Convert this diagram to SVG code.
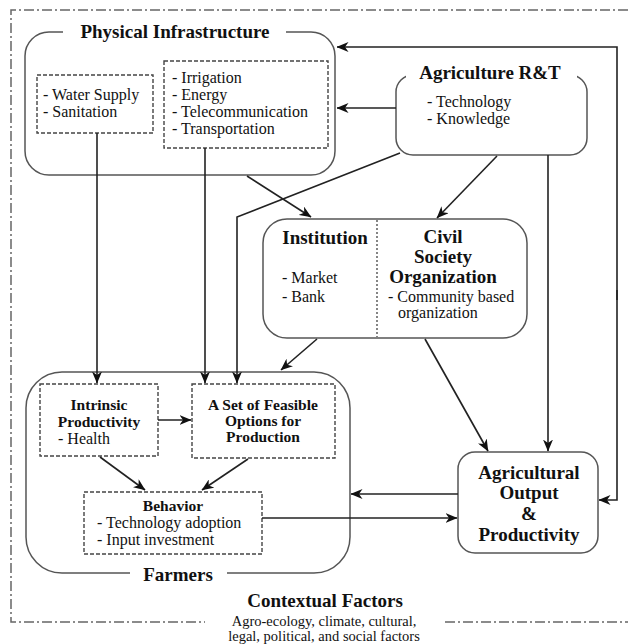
<svg xmlns="http://www.w3.org/2000/svg" width="628" height="644" viewBox="0 0 628 644">
<defs>
<marker id="arr" viewBox="0 0 12 10" refX="11.5" refY="5" markerWidth="12" markerHeight="10" markerUnits="userSpaceOnUse" orient="auto">
<path d="M0,0 L12,5 L0,10 L3.5,5 Z" fill="#111"/>
</marker>
</defs>
<style>
text{font-family:"Liberation Serif","Times New Roman",serif;fill:#111}
.t{font-size:19px;font-weight:bold}
.s{font-size:15.5px;font-weight:bold}
.b{font-size:16px}
.c{font-size:14.5px}
.box{fill:#fff;stroke:#555;stroke-width:1.5}
.dash{fill:none;stroke:#444;stroke-width:1.4;stroke-dasharray:4,2}
.border{fill:none;stroke:#666;stroke-width:1.5;stroke-dasharray:10,3,2,3}
.con path{fill:none;stroke:#222;stroke-width:1.6;marker-end:url(#arr)}
.gap{fill:#fff}
</style>
<rect width="628" height="644" fill="#fff"/>
<g id="contextual-factors">
<path class="border" d="M628,10 L11,10 L11,622 L205,622"/>
<path class="border" d="M445,622 L628,622"/>
<text class="t" x="325" y="607" text-anchor="middle">Contextual Factors</text>
<text class="c" x="324" y="626" text-anchor="middle">Agro-ecology, climate, cultural,</text>
<text class="c" x="324" y="641" text-anchor="middle">legal, political, and social factors</text>
</g>
<g id="physical-infrastructure">
<rect class="box" x="25" y="32" width="310" height="143" rx="24"/>
<rect class="gap" x="63" y="24" width="223" height="16"/>
<text class="t" x="175" y="38" text-anchor="middle">Physical Infrastructure</text>
<g id="water-supply">
<rect class="dash" x="37" y="75" width="116" height="58"/>
<text class="b" x="43" y="100">- Water Supply</text>
<text class="b" x="43" y="117">- Sanitation</text>
</g>
<g id="irrigation">
<rect class="dash" x="164" y="61" width="164" height="87"/>
<text class="b" x="172" y="83">- Irrigation</text>
<text class="b" x="172" y="100">- Energy</text>
<text class="b" x="172" y="117">- Telecommunication</text>
<text class="b" x="172" y="134">- Transportation</text>
</g>
</g>
<g id="agriculture-rt">
<rect class="box" x="396" y="75" width="191" height="80" rx="17"/>
<rect class="gap" x="406" y="66" width="171" height="16"/>
<text class="t" x="490" y="79" text-anchor="middle">Agriculture R&amp;T</text>
<text class="b" x="427" y="107">- Technology</text>
<text class="b" x="427" y="124">- Knowledge</text>
</g>
<g id="institution-civil-society">
<rect class="box" x="263" y="219" width="264" height="119" rx="24"/>
<line x1="377" y1="220" x2="377" y2="337" stroke="#444" stroke-width="1.3" stroke-dasharray="2,2"/>
<text class="t" x="325" y="244" text-anchor="middle">Institution</text>
<text class="b" x="282" y="283">- Market</text>
<text class="b" x="282" y="302">- Bank</text>
<text class="t" x="443" y="243" text-anchor="middle">Civil</text>
<text class="t" x="443" y="263" text-anchor="middle">Society</text>
<text class="t" x="443" y="283" text-anchor="middle">Organization</text>
<text class="b" x="388" y="302">- Community based</text>
<text class="b" x="398" y="318">organization</text>
</g>
<g id="farmers">
<rect class="box" x="26" y="372" width="324" height="201" rx="36"/>
<rect class="gap" x="130" y="565" width="97" height="16"/>
<text class="t" x="178" y="581" text-anchor="middle">Farmers</text>
<g id="intrinsic-productivity">
<rect class="dash" x="40" y="384" width="118" height="72"/>
<text class="s" x="99" y="410" text-anchor="middle">Intrinsic</text>
<text class="s" x="99" y="427" text-anchor="middle">Productivity</text>
<text class="b" x="58" y="444">- Health</text>
</g>
<g id="feasible-options">
<rect class="dash" x="192" y="384" width="143" height="74"/>
<text class="s" x="263" y="410" text-anchor="middle">A Set of Feasible</text>
<text class="s" x="263" y="426" text-anchor="middle">Options for</text>
<text class="s" x="263" y="442" text-anchor="middle">Production</text>
</g>
<g id="behavior">
<rect class="dash" x="84" y="492" width="178" height="62"/>
<text class="s" x="173" y="511" text-anchor="middle">Behavior</text>
<text class="b" x="97" y="528">- Technology adoption</text>
<text class="b" x="97" y="545">- Input investment</text>
</g>
</g>
<g id="agricultural-output">
<rect class="box" x="458" y="452" width="140" height="101" rx="17"/>
<text class="t" x="529" y="479" text-anchor="middle">Agricultural</text>
<text class="t" x="529" y="499" text-anchor="middle">Output</text>
<text class="t" x="529" y="520" text-anchor="middle">&amp;</text>
<text class="t" x="529" y="541" text-anchor="middle">Productivity</text>
</g>
<g id="connectors" class="con">
<path d="M617,300 L617,47 L337,47"/>
<path d="M617,290 L617,500 L599,500"/>
<path d="M396,108 L337,108"/>
<path d="M400,153 L237,217 L237,383"/>
<path d="M247,176 L311,217"/>
<path d="M497,156 L437,218"/>
<path d="M548,155 L548,451"/>
<path d="M317,339 L281,370"/>
<path d="M425,339 L488,451"/>
<path d="M97,133 L97,383"/>
<path d="M205,148 L205,383"/>
<path d="M158,420 L191,420"/>
<path d="M100,457 L145,490"/>
<path d="M248,459 L202,490"/>
<path d="M262,518 L457,518"/>
<path d="M458,494 L351,494"/>
</g>
</svg>
